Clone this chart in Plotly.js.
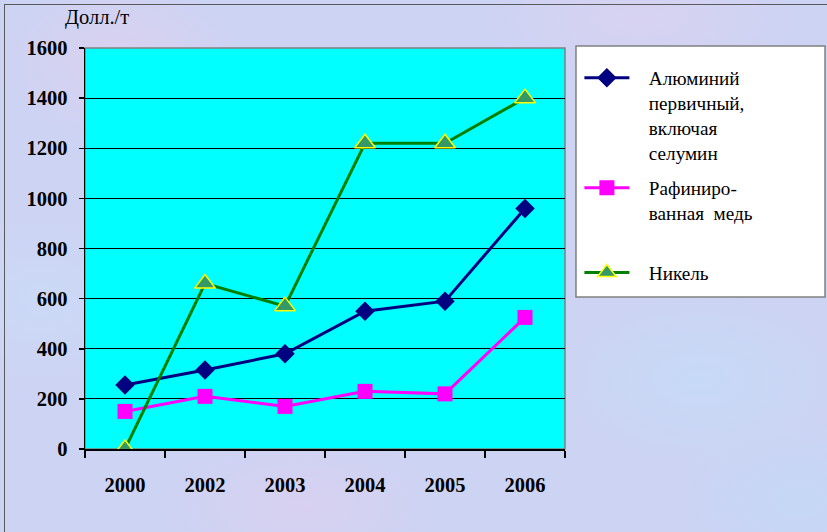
<!DOCTYPE html>
<html>
<head>
<meta charset="utf-8">
<script src="https://cdn.plot.ly/plotly-3.0.1.min.js"></script>
<style>
  html, body { margin:0; padding:0; }
  body {
    width:827px; height:532px; overflow:hidden; position:relative;
    background-color:#cdd3f3;
    background-image:
      radial-gradient(ellipse 120px 80px at 120px 60px, rgba(235,205,235,0.45), rgba(235,205,235,0)),
      radial-gradient(ellipse 150px 90px at 700px 380px, rgba(190,225,250,0.45), rgba(190,225,250,0)),
      radial-gradient(ellipse 140px 70px at 300px 505px, rgba(230,205,238,0.45), rgba(230,205,238,0)),
      radial-gradient(ellipse 120px 90px at 40px 300px, rgba(200,228,250,0.4), rgba(200,228,250,0)),
      radial-gradient(ellipse 160px 60px at 640px 20px, rgba(232,208,238,0.4), rgba(232,208,238,0)),
      radial-gradient(ellipse 130px 80px at 800px 500px, rgba(185,222,250,0.4), rgba(185,222,250,0));
  }
  #frame { position:absolute; left:4px; top:4px; width:900px; height:600px; border-left:1.5px solid #5a5a5a; border-top:1.5px solid #5a5a5a; pointer-events:none; }
  #chart { position:absolute; left:0; top:0; width:827px; height:532px; }
</style>
</head>
<body>
<div id="chart"></div>
<div id="frame"></div>
<script>
var years = ['2000', '2002', '2003', '2004', '2005', '2006'];
var aluminium = [255, 315, 380, 550, 590, 960];
var copper = [150, 210, 170, 230, 220, 525];
var nickel = [0, 660, 570, 1220, 1220, 1400];
var seriesNames = [
  'Алюминий<br>первичный,<br>включая<br>селумин',
  'Рафиниро-<br>ванная\u00a0 медь<br>\u00a0',
  'Никель'
];
var yTicks = [0, 200, 400, 600, 800, 1000, 1200, 1400, 1600];
var unitLabel = 'Долл./т';

var serif = 'Liberation Serif, Times New Roman, serif';
var pad = '\u00a0\u00a0\u00a0';
function padLines(s) { return s.split('<br>').map(function (t) { return pad + t; }).join('<br>'); }

var traces = [
  {
    x: years, y: aluminium, name: padLines(seriesNames[0]), type: 'scatter', mode: 'lines+markers',
    legendgroup: 'a',
    line: {color: '#000080', width: 3},
    marker: {symbol: 'diamond', size: 15, color: '#000080'}
  },
  {
    x: years, y: copper, name: padLines(seriesNames[1]), type: 'scatter', mode: 'lines+markers',
    legendgroup: 'b',
    line: {color: '#ff00ff', width: 3},
    marker: {symbol: 'square', size: 15, color: '#ff00ff'}
  },
  {
    x: years, y: nickel, name: padLines(seriesNames[2]), type: 'scatter', mode: 'lines+markers',
    legendgroup: 'c',
    line: {color: '#008000', width: 3},
    marker: {symbol: 'triangle-up', size: 18, color: '#339966', line: {color: '#ffff00', width: 1.5}}
  }
];

var layout = {
  width: 827, height: 532,
  margin: {l: 85, r: 262, t: 48, b: 83, pad: 0},
  paper_bgcolor: 'rgba(0,0,0,0)',
  plot_bgcolor: '#00ffff',
  showlegend: true,
  font: {family: serif, color: '#000000'},
  xaxis: {
    type: 'category',
    range: [-0.5, 5.5],
    showgrid: false,
    showline: true, linecolor: '#000000', linewidth: 1.5,
    ticks: 'outside', tickson: 'boundaries', ticklen: 7, tickwidth: 1.5, tickcolor: '#000000',
    tickfont: {family: serif, size: 20.5, color: '#000000', weight: 'bold'},
    ticklabelstandoff: 17,
    zeroline: false,
    fixedrange: true
  },
  yaxis: {
    range: [0, 1600],
    tickvals: yTicks,
    ticktext: yTicks.map(String),
    showgrid: true, gridcolor: '#000000', gridwidth: 1,
    showline: true, linecolor: '#000000', linewidth: 1.5,
    ticks: 'outside', ticklen: 5, tickwidth: 1.5, tickcolor: '#000000',
    tickfont: {family: serif, size: 20.5, color: '#000000', weight: 'bold'},
    ticklabelstandoff: 7,
    zeroline: false,
    fixedrange: true
  },
  legend: {
    x: 1.03, xanchor: 'left',
    y: 0.973, yanchor: 'top',
    bgcolor: 'rgba(0,0,0,0)',
    borderwidth: 0,
    valign: 'top',
    tracegroupgap: 7,
    itemwidth: 45,
    font: {family: serif, size: 19.2, color: '#000000'}
  },
  shapes: [
    {type: 'rect', xref: 'paper', yref: 'paper', x0: 0, x1: 1, y0: 0, y1: 1,
     line: {color: '#808080', width: 1.5}, fillcolor: 'rgba(0,0,0,0)', layer: 'below'},
    {type: 'rect', xref: 'paper', yref: 'paper', x0: 1.0229, x1: 1.5417, y0: 0.379, y1: 1.005,
     line: {color: '#808080', width: 1.5}, fillcolor: '#ffffff', layer: 'below'}
  ],
  annotations: [
    {text: unitLabel, xref: 'paper', yref: 'paper', x: 0.025, y: 1.075, xanchor: 'center', yanchor: 'middle',
     showarrow: false, font: {family: serif, size: 20.5, color: '#000000'}}
  ]
};

Plotly.newPlot('chart', traces, layout, {displayModeBar: false, staticPlot: true});
</script>
</body>
</html>
